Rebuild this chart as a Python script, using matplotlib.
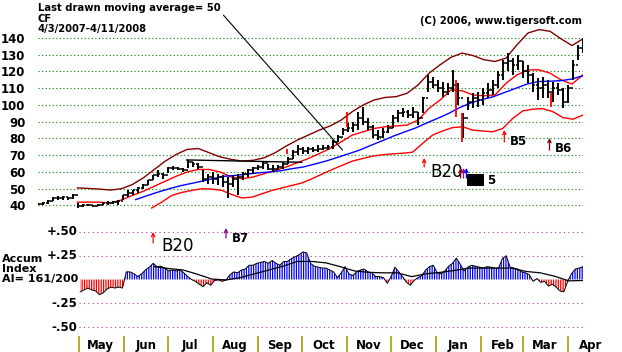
import matplotlib

matplotlib.use("Agg")
import matplotlib.dates as mdates  # noqa: E402
import matplotlib.pyplot as plt  # noqa: E402
import pandas as pd  # noqa: E402

plt.rcParams["font.family"] = ["DejaVu Sans"]
plt.rcParams["hatch.linewidth"] = 0.9

# ---------------- data ----------------

PRICE_START, PRICE_END = "2007-04-03", "2008-04-11"
price_high = [41.5, 42, 43, 45, 45.5, 45.5, 45, 47, 41.5, 41,
              41, 40.5, 41, 42, 42.5, 42.5, 43, 46.5, 49, 49.5,
              51, 53, 55.5, 58.5, 61, 59.5, 63, 63.5, 63, 62.5,
              67, 66, 65.5, 61, 59, 60, 59, 58, 57, 58,
              59, 60, 62, 63, 64, 66, 65, 64, 64, 66,
              69, 73, 76, 75, 75, 75, 76, 76, 76, 79,
              82, 86, 89, 90, 96, 99, 92, 88, 85, 86,
              88, 94, 97, 98, 97, 99, 96, 105, 118, 117,
              115, 114, 113, 121, 113, 95, 105, 107, 108, 110,
              113, 115, 120, 127, 131, 128, 130, 126, 124, 119,
              116, 117, 115, 114, 113, 110, 112, 127, 136, 140]
price_low = [40, 40.5, 41, 42.5, 43.5, 43.5, 43.5, 44, 38.5, 39,
             39.5, 39, 39.5, 40, 40.5, 41, 40.5, 43, 45, 46.5,
             47.5, 50, 52, 55, 57, 56, 59.5, 61, 61, 60,
             62.5, 63, 62, 54, 53, 53, 52, 51, 44.5, 51,
             46, 55, 57, 59, 61, 62, 61, 60, 61, 62,
             65, 68, 70, 71, 71, 72, 72, 73, 73, 74,
             78, 82, 84, 84, 85, 88, 85, 80, 79, 80,
             83, 86, 90, 93, 92, 92, 88, 95, 108, 110,
             108, 105, 106, 108, 100, 80, 97, 98, 99, 100,
             104, 106, 110, 115, 120, 118, 121, 116, 113, 108,
             103, 104, 104, 102, 106, 98, 101, 115, 127, 131]
price_close = [41, 41.5, 42.5, 44.5, 44.5, 45, 44.5, 46, 39.5, 40,
               40.5, 39.5, 40.5, 41.5, 41.5, 42, 42.5, 46, 47.5, 49,
               50.5, 52.5, 55, 58, 59, 58.5, 62.5, 62.5, 62, 61,
               66, 64.5, 63, 56, 57, 56, 57, 54, 53, 56,
               57, 59, 61, 62.5, 63, 65.5, 62, 61.5, 63, 65,
               68, 72, 74, 72.5, 73.5, 73, 74, 74.5, 75, 78,
               81, 85, 86, 88, 92, 90, 87, 82, 81, 84,
               86, 92, 95, 96, 94, 96, 92, 104, 114, 112,
               110, 108, 110, 112, 104, 92, 102, 104, 103, 107,
               109, 112, 118, 125, 126, 124, 126, 120, 118, 112,
               110, 112, 108, 110, 109, 102, 110, 124, 134, 138]

# red (signal) price bars
red_bar_dates = ["2007-09-21", "2007-11-01", "2008-01-15", "2008-01-19", "2008-03-20"]
red_bar_low = [71, 87, 93, 78, 99]
red_bar_high = [74, 96, 115, 95, 107]

# bands and the 50-day average
BAND_START = "2007-04-30"
upper_band = [50.5, 50.2, 49.8, 49.2, 50, 52.5, 56.5, 61.5, 66.5, 70.5,
              73.5, 74, 71.5, 69, 67.5, 66.5, 67, 68.5, 71.5, 75.5,
              79, 82, 85, 87.5, 91, 96, 100, 103, 104.5, 105,
              107, 112, 119, 124, 128.5, 131, 129.5, 127, 126, 128,
              136, 143, 145, 144, 139.5, 135.5, 139.5]
inner_band = [42, 42, 42, 41.5, 43.3, 46, 48.5, 51.5, 54.5, 57.5,
              60, 61.5, 61.5, 60, 57, 56, 57, 59, 61, 63,
              65.5, 68, 71, 74, 78, 82, 84, 86, 87, 87.5,
              88, 91, 98, 103, 109, 108.5, 106, 105.5, 106, 113,
              118, 121, 121, 119, 115, 112.5, 118]
MA50_START = "2007-06-09"
ma50 = [43.5, 45.8, 48, 50, 51.8, 53.2, 54.6, 56.2, 57.5, 58,
        58.8, 59.5, 60, 60.8, 62, 63, 64.7, 66.5, 68.6, 70.8,
        73, 75.8, 78.5, 81.3, 83.8, 86.2, 89.2, 92, 95, 98.5,
        101.3, 103.3, 105, 107.5, 110, 112.5, 114, 114.2, 114.5, 115.5,
        117.5]
LOWER_START = "2007-06-20"
lower_band = [38.5, 42, 46, 47.8, 49, 50, 49.8, 49, 46.5, 44.5,
              45, 47, 49, 50.5, 52, 53.5, 56, 58.8, 61.5, 64,
              66.5, 68, 69.5, 70.3, 70.8, 71.2, 71.8, 77, 82, 84.5,
              86.5, 87, 85, 84.5, 84, 86, 92, 96.5, 97.5, 97.8,
              96, 92.5, 91.5, 94]

resistance_dates = ["2007-07-14", "2007-10-01"]
resistance_vals = [67.2, 65.8]

# accumulation index
AI_START = "2007-05-02"
ai_values = [-0.13, -0.11, -0.09, -0.11, -0.12, -0.16, -0.14, -0.10, -0.08, -0.09,
             -0.08, -0.09, 0.08, 0.08, 0.06, 0.03, 0.06, 0.10, 0.13, 0.17,
             0.135, 0.14, 0.12, 0.09, 0.10, 0.09, 0.10, 0.07, 0.03, 0.0,
             -0.02, -0.05, -0.075, -0.035, -0.06, -0.01, -0.005, -0.02, -0.005, 0.05,
             0.08, 0.07, 0.10, 0.11, 0.15, 0.15, 0.17, 0.18, 0.19, 0.17,
             0.20, 0.17, 0.15, 0.19, 0.19, 0.22, 0.24, 0.26, 0.29, 0.28,
             0.17, 0.14, 0.13, 0.12, 0.12, 0.10, 0.08, 0.02, 0.07, 0.135,
             0.06, 0.04, 0.08, 0.10, 0.11, 0.08, 0.07, 0.03, 0.03, 0.02,
             -0.04, 0.03, 0.13, 0.08, 0.03, -0.03, -0.06, -0.01, 0.02, 0.04,
             0.10, 0.135, 0.15, 0.07, 0.06, 0.09, 0.14, 0.17, 0.225, 0.16,
             0.09, 0.13, 0.15, 0.14, 0.13, 0.12, 0.135, 0.13, 0.12, 0.12,
             0.22, 0.25, 0.13, 0.12, 0.11, 0.08, 0.07, 0.05, -0.02, 0.01,
             -0.03, -0.02, -0.07, -0.05, -0.08, -0.12, -0.13, -0.02, 0.06, 0.11,
             0.12, 0.135]
AI_MA_START = "2007-06-22"
ai_ma = [0.135, 0.115, 0.10, 0.055, 0.005, -0.005, 0.02, 0.06, 0.10, 0.14,
         0.19, 0.19, 0.175, 0.135, 0.09, 0.075, 0.07, 0.07, 0.03, 0.06,
         0.075, 0.095, 0.12, 0.12, 0.12, 0.12, 0.085, 0.07, 0.035, -0.015,
         -0.01]

price_ticks = [40, 50, 60, 70, 80, 90, 100, 110, 120, 130, 140]
ai_ticks = [0.5, 0.25, -0.25, -0.5]
ai_tick_labels = ["+.50", "+.25", "-.25", "-.50"]
month_names = ["May", "Jun", "Jul", "Aug", "Sep", "Oct", "Nov", "Dec",
               "Jan", "Feb", "Mar", "Apr"]

# ---------------- figure ----------------

W, H = 622, 352
fig = plt.figure(figsize=(W / 100, H / 100), dpi=100)
fig.patch.set_facecolor("white")


def px_axes(left, top, right, bottom):
    return fig.add_axes([left / W, 1 - bottom / H, (right - left) / W, (bottom - top) / H])


def dnum(s):
    return mdates.date2num(pd.Timestamp(s))


def drange(start, n):
    return mdates.date2num(pd.date_range(start, PRICE_END, periods=n))


def up_arrow(ax, date, y0, y1, color):
    ax.annotate("", xy=(dnum(date), y1), xytext=(dnum(date), y0),
                arrowprops=dict(arrowstyle="->", color=color, lw=0.9,
                                shrinkA=0, shrinkB=0, mutation_scale=6),
                annotation_clip=False)


xlim = (dnum(PRICE_START), dnum(PRICE_END))

# ---- price panel ----
ax = px_axes(38, 26, 583, 213)
ax.set_facecolor("none")
for s in ax.spines.values():
    s.set_visible(False)
ax.set_xlim(*xlim)
ax.set_ylim(35.52, 147.16)
ax.set_xticks([])
ax.set_yticks(price_ticks)
ax.tick_params(axis="y", length=0, pad=9, labelsize=8.5)
for t in ax.get_yticklabels():
    t.set_fontweight("bold")
ax.grid(axis="y", color="#008000", linestyle=(0, (1, 2.2)), lw=0.8)

px = drange(PRICE_START, len(price_high))
half = (px[1] - px[0]) / 2
ax.plot(drange(BAND_START, len(upper_band)), upper_band, color="#800000", lw=1.0)
ax.plot(drange(BAND_START, len(inner_band)), inner_band, color="#ff0000", lw=1.0)
ax.plot(drange(MA50_START, len(ma50)), ma50, color="#0000ff", lw=1.0)
ax.plot(drange(LOWER_START, len(lower_band)), lower_band, color="#ff0000", lw=1.0)
ax.plot([dnum(d) for d in resistance_dates], resistance_vals, color="black", lw=1.0)

ax.vlines(px, price_low, price_high, color="black", lw=1.4)
ax.hlines(price_close, px, px + half, color="black", lw=1.1)
ax.hlines(price_close[:-1], px[1:] - half, px[1:], color="black", lw=1.1)
ax.vlines([dnum(d) for d in red_bar_dates], red_bar_low, red_bar_high, color="#ff0000", lw=1.3)

# signals on price panel
up_arrow(ax, "2007-12-24", 63, 68.4, "#ff0000")
ax.text(dnum("2007-12-28"), 60, "B20", fontsize=12, va="center", ha="left")
up_arrow(ax, "2008-01-18", 56.4, 62.4, "#800000")
up_arrow(ax, "2008-01-20", 56.4, 62.4, "#a000a0")
up_arrow(ax, "2008-01-22", 56.4, 62.4, "#0000ff")
ax.text(dnum("2008-01-23"), 55.2, "B1", fontsize=7.5, fontweight="bold", va="center",
        ha="left", color="black", bbox=dict(fc="black", ec="none", pad=0.8))
ax.text(dnum("2008-02-05"), 55.2, "5", fontsize=8.5, fontweight="bold", va="center", ha="left")
up_arrow(ax, "2008-02-17", 77.9, 85.1, "#ff0000")
ax.text(dnum("2008-02-21"), 78.5, "B5", fontsize=8.5, fontweight="bold", va="center", ha="left")
up_arrow(ax, "2008-03-19", 73.1, 80.3, "#800000")
ax.text(dnum("2008-03-23"), 74.3, "B6", fontsize=8.5, fontweight="bold", va="center", ha="left")

# header texts
ax.annotate("Last drawn moving average= 50", xy=(dnum("2007-10-29"), 73.1),
            xytext=(38, H - 8), textcoords="figure pixels", xycoords="data",
            fontsize=7.2, fontweight="bold", ha="left", va="center",
            arrowprops=dict(arrowstyle="-", color="black", lw=0.8, relpos=(1, 0.1),
                            shrinkA=0, shrinkB=0))
fig.text(38 / W, 1 - 19 / H, "CF", fontsize=7.2, fontweight="bold", ha="left", va="center")
fig.text(38 / W, 1 - 29 / H, "4/3/2007-4/11/2008", fontsize=7.2, fontweight="bold",
         ha="left", va="center")
fig.text(582 / W, 1 - 21 / H, "(C) 2006, www.tigersoft.com", fontsize=7.2, fontweight="bold",
         ha="right", va="center")

# ---- accumulation index panel ----
ax2 = px_axes(38, 222, 583, 352)
ax2.set_facecolor("none")
for s in ax2.spines.values():
    s.set_visible(False)
ax2.set_xlim(*xlim)
ax2.set_ylim(-0.763, 0.605)
ax2.set_xticks([])
ax2.set_yticks([])

ax2.hlines(ai_ticks, dnum("2007-05-01"), xlim[1], color="#a040a0",
           linestyle=(0, (1, 3)), lw=0.8)
for v, lab in zip(ai_ticks, ai_tick_labels):
    ax2.text(dnum("2007-04-30"), v, lab, fontsize=8.5, fontweight="bold",
             ha="right", va="center")

ax_x = drange(AI_START, len(ai_values))
ai = pd.Series(ai_values).to_numpy()
ax2.fill_between(ax_x, ai, 0, where=ai >= 0, interpolate=True, facecolor="white",
                 edgecolor="#0000ff", hatch="|||||||", lw=0)
ax2.fill_between(ax_x, ai, 0, where=ai <= 0, interpolate=True, facecolor="white",
                 edgecolor="#ff0000", hatch="|||||||", lw=0)
ax2.plot(ax_x, ai, color="black", lw=0.7)
ax2.plot(drange(AI_MA_START, len(ai_ma)), ai_ma, color="black", lw=0.9)

up_arrow(ax2, "2007-06-21", 0.384, 0.5, "#ff0000")
ax2.text(dnum("2007-06-27"), 0.353, "B20", fontsize=12, va="center", ha="left")
up_arrow(ax2, "2007-08-10", 0.437, 0.542, "#800080")
ax2.text(dnum("2007-08-14"), 0.43, "B7", fontsize=8.5, fontweight="bold", va="center", ha="left")

fig.text(2 / W, 1 - 259 / H, "Accum", fontsize=8, fontweight="bold", ha="left", va="center")
fig.text(2 / W, 1 - 269 / H, "Index", fontsize=8, fontweight="bold", ha="left", va="center")
fig.text(2 / W, 1 - 279 / H, "AI= 161/200", fontsize=8, fontweight="bold", ha="left", va="center")

# month axis
month_starts = pd.date_range("2007-05-01", "2008-04-01", freq="MS")
xt = ax2.get_xaxis_transform()
for start, name in zip(month_starts, month_names):
    ax2.axvline(mdates.date2num(start), ymin=0, ymax=0.115, color="#a0a000", lw=1.2)
    ax2.text(mdates.date2num(start + pd.Timedelta(days=15)), 0.052, name, transform=xt,
             fontsize=8.5, fontweight="bold", ha="center", va="center", clip_on=False)

fig.savefig("out.png", dpi=100)
